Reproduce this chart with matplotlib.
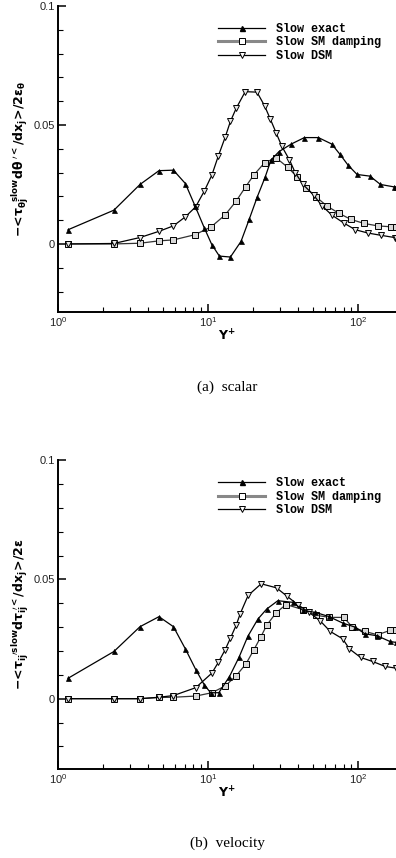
import numpy as np
import matplotlib
matplotlib.use("Agg")
import matplotlib.pyplot as plt
from matplotlib.lines import Line2D

plt.rcParams['font.family'] = ['Liberation Sans', 'DejaVu Sans']
plt.rcParams['mathtext.fontset'] = 'dejavusans'

# ---- panel (a) scalar ----
a_exact_x = [1.17, 2.36, 3.52, 4.71, 5.88, 7.06, 8.19, 9.45, 10.6, 11.9, 14.1, 16.6, 18.8,
             21.3, 24.0, 26.3, 29.7, 35.9, 43.9, 54.4, 66.7, 75.9, 85.8, 98.5, 120, 141, 173, 179]
a_exact_y = [0.0060, 0.0142, 0.0250, 0.0308, 0.0310, 0.0254, 0.0160, 0.0067, -0.0003, -0.0051,
             -0.0055, 0.0011, 0.0103, 0.0198, 0.0280, 0.0353, 0.0388, 0.0420, 0.0447, 0.0447,
             0.0420, 0.0376, 0.0331, 0.0292, 0.0285, 0.0250, 0.0240, 0.0240]

a_sm_x = [1.17, 2.36, 3.52, 4.71, 5.88, 8.2, 10.5, 13.0, 15.4, 17.8, 20.2, 23.8, 28.4, 34.0,
          39.2, 45.0, 52.5, 61.8, 75.0, 89.6, 110, 135, 167, 179]
a_sm_y = [0.0, 0.0, 0.0003, 0.0013, 0.0017, 0.0039, 0.0072, 0.0122, 0.0180, 0.0240, 0.0290,
          0.0341, 0.0362, 0.0322, 0.0282, 0.0236, 0.0198, 0.0160, 0.0128, 0.0103, 0.0086,
          0.0076, 0.0072, 0.0071]

a_dsm_x = [1.17, 2.36, 3.52, 4.71, 5.88, 7.06, 8.27, 9.44, 10.6, 11.7, 13.0, 14.1, 15.4, 17.7,
           21.2, 23.8, 26.0, 28.4, 31.0, 34.9, 38.1, 42.8, 50.6, 57.5, 67, 80.3, 95.7, 116, 143,
           175, 179]
a_dsm_y = [0.0, 0.0002, 0.0027, 0.0053, 0.0076, 0.0114, 0.0156, 0.0222, 0.0289, 0.0369, 0.0448,
           0.0515, 0.0570, 0.0640, 0.0638, 0.0581, 0.0525, 0.0468, 0.0411, 0.0353, 0.0300,
           0.0251, 0.0205, 0.0160, 0.0121, 0.0088, 0.0060, 0.0046, 0.0036, 0.0027, 0.0026]

# ---- panel (b) velocity ----
b_exact_x = [1.17, 2.36, 3.52, 4.71, 5.88, 7.06, 8.3, 9.44, 10.4, 11.8, 13.9, 16.1, 18.4, 21.5,
             24.6, 29.2, 36.9, 43.0, 52.0, 63.6, 79.2, 95.7, 111, 134, 163, 179]
b_exact_y = [0.0086, 0.0198, 0.0302, 0.0344, 0.0302, 0.0209, 0.0121, 0.0058, 0.0025, 0.0025,
             0.0093, 0.0174, 0.0261, 0.0334, 0.0376, 0.0411, 0.0404, 0.0370, 0.0362, 0.0345,
             0.0317, 0.0300, 0.0272, 0.0264, 0.0240, 0.0236]

b_sm_x = [1.17, 2.36, 3.52, 4.71, 5.88, 8.3, 10.6, 13.0, 15.4, 17.9, 20.2, 22.4, 24.6, 28.4,
          33.1, 42.8, 52.5, 64.5, 80.3, 91.7, 111, 135, 164, 179]
b_sm_y = [0.0, 0.0, 0.0, 0.0005, 0.0006, 0.0011, 0.0025, 0.0053, 0.0096, 0.0146, 0.0205,
          0.0257, 0.0308, 0.0360, 0.0395, 0.0374, 0.0350, 0.0341, 0.0341, 0.0300, 0.0282,
          0.0268, 0.0287, 0.0290]

b_dsm_x = [1.17, 2.36, 3.52, 4.71, 5.88, 8.27, 10.6, 11.7, 13.0, 14.1, 15.4, 16.4, 18.5, 22.6,
           28.6, 33.6, 39.5, 47.2, 55.8, 65.3, 79, 87.5, 104, 125, 152, 179]
b_dsm_y = [0.0, 0.0, 0.0, 0.0006, 0.0013, 0.0046, 0.0107, 0.0152, 0.0205, 0.0254, 0.0308,
           0.0357, 0.0433, 0.0482, 0.0465, 0.0430, 0.0395, 0.0362, 0.0327, 0.0282, 0.0251,
           0.0209, 0.0173, 0.0156, 0.0135, 0.0128]

labels = ['Slow exact', 'Slow SM damping', 'Slow DSM']
ylabels = [r'$\mathbf{-\!<\!\tau_{\theta j}^{\ \ slow}d\theta^{\ \prime<}/dx_j\!>\!/2\varepsilon_\theta}$',
           r'$\mathbf{-\!<\!\tau_{ij}^{\ \ \prime slow}d\tau_{ij}^{\ \prime<}/dx_j\!>\!/2\varepsilon}$']
captions = ['(a)  scalar', '(b)  velocity']

fig = plt.figure(figsize=(3.96, 8.58), dpi=100)
ax1 = fig.add_axes([58/396, 1-312/858, 1-58/396, (312-6)/858])
ax2 = fig.add_axes([58/396, 1-769/858, 1-58/396, (769-460.3)/858])

panels = [(ax1, a_exact_x, a_exact_y, a_sm_x, a_sm_y, a_dsm_x, a_dsm_y, -0.0286),
          (ax2, b_exact_x, b_exact_y, b_sm_x, b_sm_y, b_dsm_x, b_dsm_y, -0.0295)]

for i, (ax, ex, ey, sx, sy, dx, dy, ybot) in enumerate(panels):
    ax.plot(sx, sy, color='#333333', lw=0.9, marker='s', ms=4.2, mfc='#d8d8d8',
            mec='black', mew=0.7)
    ax.plot(dx, dy, color='black', lw=0.9, marker='v', ms=5, mfc='#e8e8e8',
            mec='black', mew=0.7)
    ax.plot(ex, ey, color='black', lw=0.9, marker='^', ms=3.6, mfc='black',
            mec='black', mew=0.5)

    ax.set_xscale('log')
    ax.set_xlim(1, 179)
    ax.set_ylim(ybot, 0.1)
    ax.set_yticks([0, 0.05, 0.1])
    ax.set_yticklabels(['0', '0.05', '0.1'])
    ax.set_yticks(np.arange(-0.02, 0.1, 0.01), minor=True)
    ax.spines['top'].set_visible(False)
    ax.spines['right'].set_visible(False)
    ax.spines['left'].set_linewidth(1.4)
    ax.spines['bottom'].set_linewidth(1.4)
    ax.tick_params(which='major', direction='in', length=6, width=1.1,
                   labelsize=8, labelcolor='#222222', pad=2)
    ax.tick_params(which='minor', direction='in', length=3.5, width=0.8)
    ax.set_xlabel(r'$\mathbf{Y^{+}}$', fontsize=9, labelpad=0)
    ax.set_ylabel(ylabels[i], fontsize=9, labelpad=2)

    handles = [Line2D([], [], color='black', lw=0.9, marker='^', ms=3.6, mfc='black'),
               Line2D([], [], color='#888888', lw=2.2, marker='s', ms=4.2, mfc='white',
                      mec='black', mew=0.7),
               Line2D([], [], color='black', lw=0.9, marker='v', ms=5, mfc='white',
                      mec='black', mew=0.7)]
    ax.legend(handles, labels, loc='upper left', bbox_to_anchor=(0.46, 0.96),
              frameon=False, handlelength=4.0, handletextpad=0.9, labelspacing=0.12,
              borderaxespad=0, prop={'family': 'Liberation Mono', 'weight': 'bold', 'size': 8.5})

fig.text(227/396, 1-387/858, captions[0], ha='center', va='center',
         family='Liberation Serif', fontsize=11)
fig.text(227/396, 1-843/858, captions[1], ha='center', va='center',
         family='Liberation Serif', fontsize=11)

fig.savefig('out.png', dpi=100)
